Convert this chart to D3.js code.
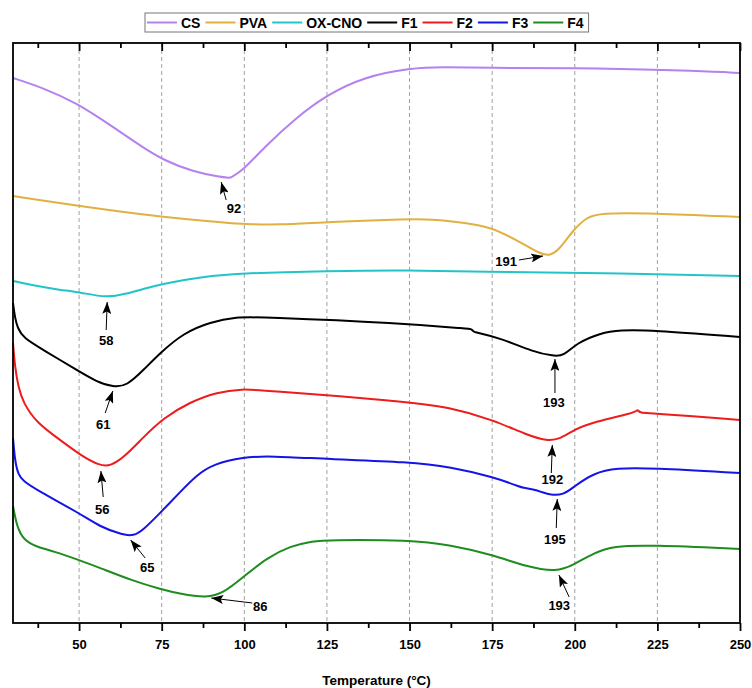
<!DOCTYPE html>
<html>
<head>
<meta charset="utf-8">
<script src="https://cdn.jsdelivr.net/npm/d3@7"></script>
<style>
  body { margin: 0; background: #fff; }
  text { font-family: "Liberation Sans", Arial, sans-serif; font-weight: bold; }
</style>
</head>
<body>
<svg id="chart" width="752" height="688"></svg>
<script>
// series: [temperature, heat flow (arbitrary, offset stacked)]
// a point listed twice keeps a sharp corner in the smoothed curve
const csData = [[30,545],[39.2,535],[49.3,520],[59.4,498],[69.5,475],[75.5,463],[84.6,451],[92.7,446],[95.7,445],[95.7,445],[99.7,453],[105.8,475],[115.9,506],[125,528],[136.1,546],[150.2,555],[160.3,556],[171.3,555],[207.7,555],[238,552],[250,550]];
const pvaData = [[30,427],[50,417],[74.8,406],[95.7,400],[99.7,399],[110,398],[125,401],[150.2,404],[156.2,404],[167.3,400],[174.4,396],[182.4,383],[189.5,369],[192.5,367],[195.5,374],[199.5,393],[203.7,406],[207.7,410],[222.8,410],[250,406]];
const oxData = [[30,342],[37,337],[44.3,333],[50,331],[58.4,325],[64,329],[69.5,334],[74.8,339],[86.6,346],[100,350],[125,352],[150,353],[171.4,351],[207.7,350],[250,347]];
const f1Data = [[30,320],[30.6,305],[31.4,295],[33.1,285],[39.2,273],[49.3,253],[55.4,241],[60.4,236],[64.4,237],[69.5,253],[74.5,270],[81.6,290],[89.7,301],[97.7,306],[104.8,306],[147.2,300],[168.4,294],[168.6,294],[169.6,291],[169.6,291],[177.5,285],[187.5,271],[193.6,267],[196.6,267],[200.6,280],[207.7,290],[213.8,293],[222.8,293],[250,286]];
const f2Data = [[30,280],[30.6,256],[31.6,236],[33.1,220],[37.2,200],[44.3,183],[50.3,168],[56.4,157],[59.4,157],[63.4,165],[69.5,186],[75.5,205],[83.6,221],[91.7,231],[99.7,234],[104.8,233],[147.2,222],[162.3,216],[175.4,203],[185.5,188],[191.6,182],[195.6,184],[199.6,193],[205.7,201],[217.8,210],[219,213],[219,213],[219.8,210],[222.8,210],[250,203]];
const f3Data = [[30,185],[30.6,162],[31.6,148],[33.1,142],[37.2,133],[50,110],[56.4,96],[63.3,88],[66.4,87],[69.4,93],[74.5,110],[80.6,131],[85.6,148],[90.7,159],[99.7,166],[107.8,167],[125,164],[150.2,161],[162.3,156],[175.4,146],[184,135.5],[184,135.5],[187.5,133.5],[190,131],[192.6,128],[196.6,128],[199.6,136],[205.7,150],[212.7,155],[222.8,155],[250,150]];
const f4Data = [[30,117],[31.2,96],[33.2,83],[37.2,76],[42.1,72],[50,63],[56.4,55],[66.4,42],[74.5,34],[80.6,29],[88.7,25],[93.7,30],[99.7,46],[106.8,65],[113.9,77],[120.9,82],[125,83],[150.2,83],[162.3,78],[175.4,68],[185.5,56],[194.6,51],[199.6,58],[205.7,70],[211.7,77],[222.8,78],[250,74]];

const seriesNames = ["CS", "PVA", "OX-CNO", "F1", "F2", "F3", "F4"];
const seriesColors = ["#b482ee", "#e0b040", "#22c4c8", "#000000", "#ee1c1c", "#1414e6", "#1e8c1e"];
const seriesData = [csData, pvaData, oxData, f1Data, f2Data, f3Data, f4Data];

const xTicks = [50, 75, 100, 125, 150, 175, 200, 225, 250];
const xMinorTicks = [37.5, 62.5, 87.5, 112.5, 137.5, 162.5, 187.5, 212.5, 237.5];

// peak labels: [text, textX, textY, tailX, tailY, tipX, tipY] in data units
const peakNotes = [
  ["92", 96.9, 415, 94.5, 423, 93.0, 441],
  ["191", 179.2, 362, 183.1, 363, 190.4, 367],
  ["58", 58.2, 283, 58.2, 293, 58.5, 321],
  ["61", 57.3, 199, 57.9, 210, 60.2, 232],
  ["193", 193.7, 221, 194.0, 230, 194.0, 264],
  ["56", 57.0, 114, 57.3, 126, 56.6, 152],
  ["192", 193.2, 144, 192.9, 150, 193.2, 178],
  ["65", 70.6, 56, 70.0, 65, 65.6, 83],
  ["195", 194.0, 84, 194.4, 95, 194.7, 124],
  ["86", 104.8, 17, 102.4, 20, 90.0, 25],
  ["193", 195.3, 18, 198.3, 26, 195.2, 48]
];

const svg = d3.select("#chart");
const plotLeft = 13, plotRight = 740, plotTop = 43, plotBottom = 623;

const x = d3.scaleLinear().domain([30, 250]).range([plotLeft, plotRight]);
const y = d3.scaleLinear().domain([0, 580]).range([plotBottom, plotTop]);

// dashed grid
svg.append("g")
  .selectAll("line")
  .data(xTicks.filter(t => t < 250))
  .enter()
  .append("line")
  .attr("x1", d => x(d)).attr("x2", d => x(d))
  .attr("y1", plotTop).attr("y2", plotBottom)
  .attr("stroke", "#a0a0a0")
  .attr("stroke-width", 1)
  .attr("stroke-dasharray", "4,3");

// curves
let line = d3.line()
  .x(d => x(d[0]))
  .y(d => y(d[1]))
  .curve(d3.curveBasis);

svg.append("g")
  .selectAll("path")
  .data(seriesData)
  .enter()
  .append("path")
  .attr("d", d => line(d))
  .attr("fill", "none")
  .attr("stroke", (d, i) => seriesColors[i])
  .attr("stroke-width", 2);

// frame
svg.append("rect")
  .attr("x", plotLeft).attr("y", plotTop)
  .attr("width", plotRight - plotLeft).attr("height", plotBottom - plotTop)
  .attr("fill", "none")
  .attr("stroke", "#000")
  .attr("stroke-width", 1.8);

// bottom axis, outward ticks
let xAxis = d3.axisBottom(x).tickValues(xTicks).tickSize(8).tickPadding(9);
let gx = svg.append("g").attr("transform", `translate(0,${plotBottom})`).call(xAxis);
gx.select(".domain").remove();
gx.selectAll("line").attr("stroke-width", 1.8);
gx.selectAll("text").attr("font-size", 13).attr("font-weight", "bold")
  .attr("font-family", "Liberation Sans, Arial, sans-serif").attr("fill", "#000");

let gxm = svg.append("g").attr("transform", `translate(0,${plotBottom})`)
  .call(d3.axisBottom(x).tickValues(xMinorTicks).tickSize(5).tickFormat(""));
gxm.select(".domain").remove();
gxm.selectAll("line").attr("stroke-width", 1.8);

// top axis, inward ticks
let gt = svg.append("g").attr("transform", `translate(0,${plotTop})`)
  .call(d3.axisTop(x).tickValues(xTicks).tickSize(-8).tickFormat(""));
gt.select(".domain").remove();
gt.selectAll("line").attr("stroke-width", 1.8);
let gtm = svg.append("g").attr("transform", `translate(0,${plotTop})`)
  .call(d3.axisTop(x).tickValues(xMinorTicks).tickSize(-5).tickFormat(""));
gtm.select(".domain").remove();
gtm.selectAll("line").attr("stroke-width", 1.8);

svg.append("text")
  .attr("x", (plotLeft + plotRight) / 2)
  .attr("y", 685)
  .attr("text-anchor", "middle")
  .attr("font-size", 13.5)
  .text("Temperature (°C)");

// arrows
svg.append("defs").append("marker")
  .attr("id", "head")
  .attr("viewBox", "0 0 12 9")
  .attr("refX", 12).attr("refY", 4.5)
  .attr("markerWidth", 12).attr("markerHeight", 9)
  .attr("markerUnits", "userSpaceOnUse")
  .attr("orient", "auto")
  .append("path")
  .attr("d", "M0,0 L12,4.5 L0,9 L2.5,4.5 Z")
  .attr("fill", "#000");

let notes = svg.append("g");
notes.selectAll("line")
  .data(peakNotes)
  .enter()
  .append("line")
  .attr("x1", d => x(d[3])).attr("y1", d => y(d[4]))
  .attr("x2", d => x(d[5])).attr("y2", d => y(d[6]))
  .attr("stroke", "#000")
  .attr("stroke-width", 1)
  .attr("marker-end", "url(#head)");

notes.selectAll("text")
  .data(peakNotes)
  .enter()
  .append("text")
  .attr("x", d => x(d[1])).attr("y", d => y(d[2]))
  .attr("dy", "0.36em")
  .attr("text-anchor", "middle")
  .attr("font-size", 13)
  .text(d => d[0]);

// legend
let legend = svg.append("g");
let legendBox = legend.append("rect")
  .attr("y", 13).attr("height", 19)
  .attr("fill", "#fff").attr("stroke", "#777").attr("stroke-width", 1);
let lx = 147;
seriesNames.forEach((name, i) => {
  legend.append("line")
    .attr("x1", lx).attr("x2", lx + 30)
    .attr("y1", 22.5).attr("y2", 22.5)
    .attr("stroke", seriesColors[i]).attr("stroke-width", 2);
  let t = legend.append("text")
    .attr("x", lx + 34).attr("y", 22.5)
    .attr("dy", "0.36em")
    .attr("font-size", 14)
    .text(name);
  lx += 34 + t.node().getComputedTextLength() + 5;
});
legendBox.attr("x", 145).attr("width", lx - 145);
</script>
</body>
</html>
